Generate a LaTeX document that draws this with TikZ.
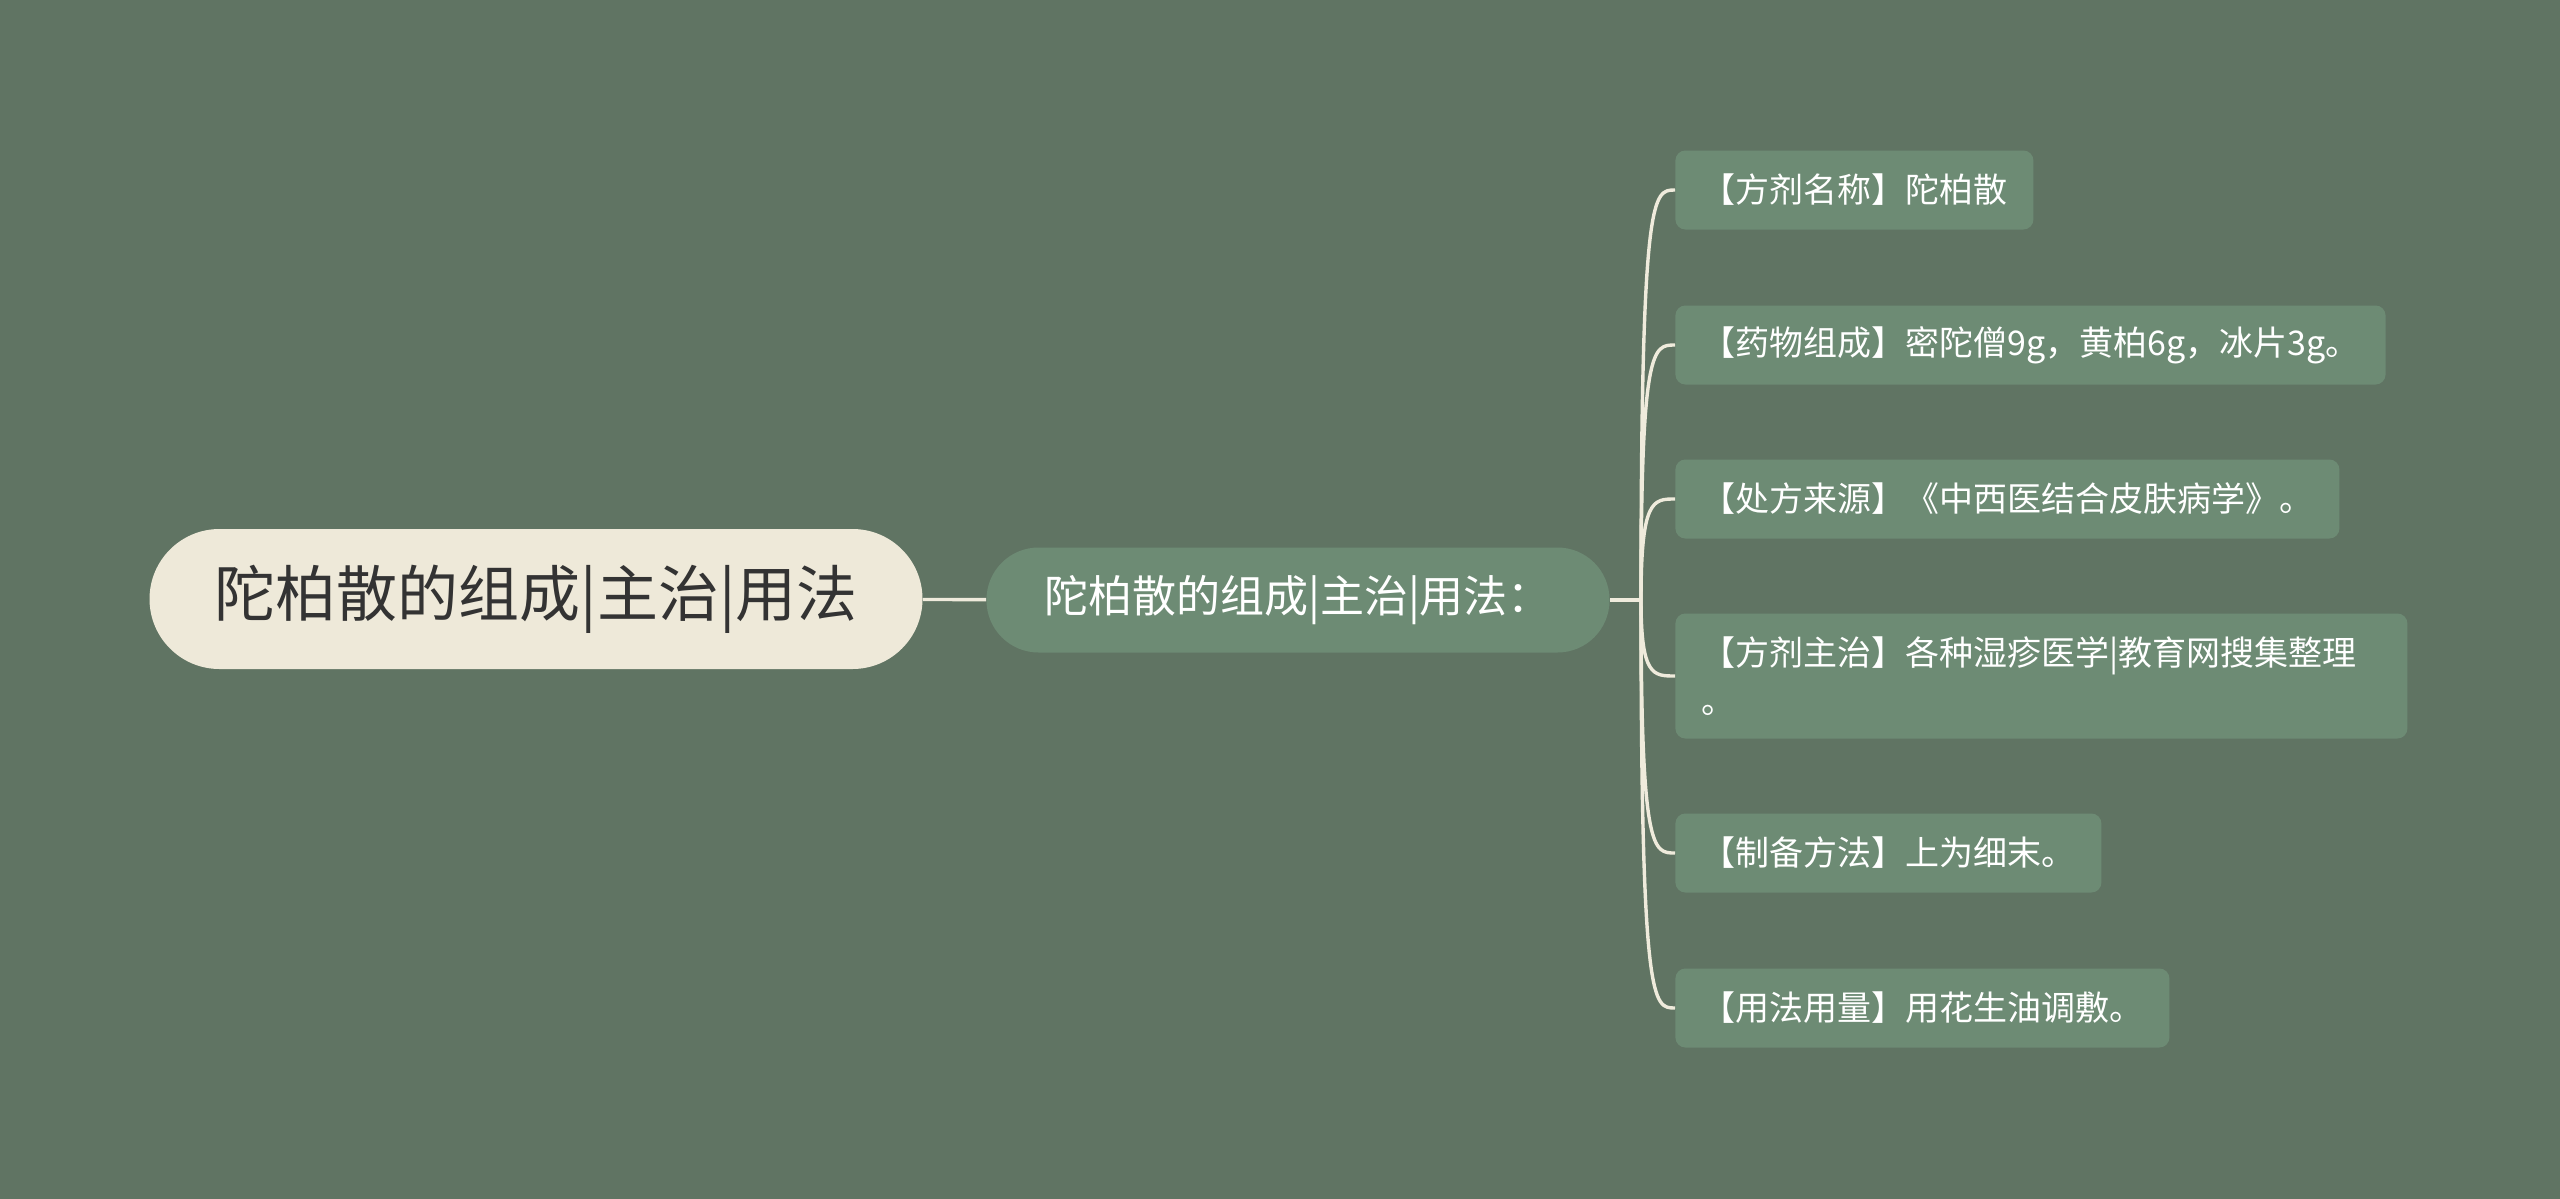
\documentclass[tikz,border=0pt]{standalone}
\usepackage{fontspec}
\setmainfont{Noto Sans CJK SC}
\usetikzlibrary{positioning,calc}
\definecolor{bgcol}{HTML}{607463}
\definecolor{rootcol}{HTML}{EEE9D9}
\definecolor{leafcol}{HTML}{6D8B74}
\definecolor{linecol}{HTML}{EFEBDC}
\tikzset{
%Define style for the boxes
root box/.style={fill=rootcol, text=black!80, rounded corners=35pt,
  minimum width=386.5pt, minimum height=70pt, font=\fontsize{30.5}{35}\selectfont},
main box/.style={fill=leafcol, text=white, rounded corners=26pt,
  minimum width=311.5pt, minimum height=52.5pt, font=\fontsize{22}{26}\selectfont},
leaf box/.style={fill=leafcol, text=white, rounded corners=5pt, anchor=west,
  inner xsep=13pt, minimum height=39.5pt, align=left, font=\fontsize{17}{24}\selectfont},
%Define style for the connections
link/.style={draw=linecol, line width=1.7pt},
}

\begin{document}
\begin{tikzpicture}[x=0.5pt, y=-0.5pt]
    %Background, fixes the size of the page
    \fill[bgcol] (0,0) rectangle (2560,1199);
    \useasboundingbox (0,0) rectangle (2560,1199);
    %The two big nodes
    \node[root box] (root) at (536,599) {陀柏散的组成|主治|用法};
    \node[main box] (main) at (1298,600) {陀柏散的组成|主治|用法：};
    %Where the branches start
    \coordinate (hub) at (1641,600);
    %The leaves
    \node[leaf box] (name) at (1675,190) {【方剂名称】陀柏散};
    \node[leaf box] (drugs) at (1675,345) {【药物组成】密陀僧9g，黄柏6g，冰片3g。};
    \node[leaf box] (source) at (1675,499) {【处方来源】《中西医结合皮肤病学》。};
    \node[leaf box, text width=340pt, minimum height=62.5pt] (cure) at (1675,676)
      {【方剂主治】各种湿疹医学|教育网搜集整理\\。};
    \node[leaf box] (prep) at (1675,853) {【制备方法】上为细末。};
    \node[leaf box] (usage) at (1675,1008) {【用法用量】用花生油调敷。};
    %Connections
    \draw[link] (root) -- (main);
    \draw[link] (main.east) -- (hub);
    \foreach \leaf in {name, drugs, source, cure, prep, usage}
      \draw[link] (hub) .. controls (hub |- \leaf.west) and ($(hub |- \leaf.west)+(12,0)$) .. (\leaf.west);
\end{tikzpicture}
\end{document}
